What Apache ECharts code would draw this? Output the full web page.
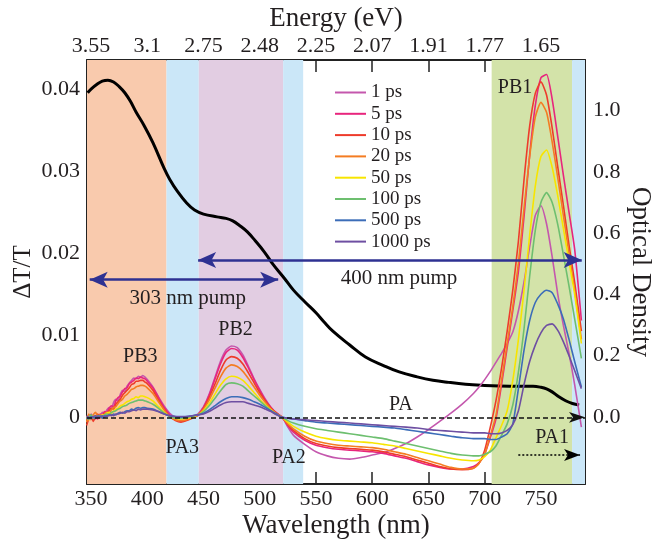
<!DOCTYPE html>
<html><head><meta charset="utf-8">
<script src="https://cdn.jsdelivr.net/npm/echarts@6/dist/echarts.min.js"></script>
<style>html,body{margin:0;padding:0;background:#fff;}#c{width:652px;height:545px;}</style>
</head><body><div id="c"></div>
<script>
// ---------------- data ----------------
const wl = [
346,348,350,352,354,356,358,360,362,364,366,368,370,372,374,376,378,380,382,384,386,388,390,392,394,396,398,400,
405,410,415,420,425,430,435,440,445,450,455,460,465,470,475,480,485,490,495,500,505,510,515,520,525,530,
540,550,560,570,580,590,600,610,620,630,640,650,660,670,680,690,
695,700,705,710,715,720,725,730,735,740,745,750,755,760,765,770,775,780,
786];
const seriesNames = ['1 ps','5 ps','10 ps','20 ps','50 ps','100 ps','500 ps','1000 ps'];
const s1ps = [
0.0002,-0.0003,0.0004,0.0001,-0.0002,0.0003,0.0002,0.0006,0.0004,0.0009,0.0012,0.0010,0.0018,0.0022,0.0020,0.0028,0.0033,0.0031,0.0038,0.0042,0.0045,0.0048,0.0047,0.0050,0.0049,0.0051,0.0049,0.0046,
0.0037,0.0025,0.0014,0.0005,0.0000,-0.0002,-0.0001,0.0001,0.0004,0.0013,0.0028,0.0048,0.0068,0.0082,0.0087,0.0085,0.0076,0.0062,0.0047,0.0034,0.0022,0.0012,0.0005,0,-0.0012,-0.0022,
-0.0033,-0.0042,-0.0047,-0.0050,-0.0051,-0.0049,-0.0046,-0.0043,-0.0038,-0.0032,-0.0024,-0.0015,-0.0005,0.0005,0.0016,0.0029,
0.0037,0.0046,0.0056,0.0067,0.0078,0.0090,0.0104,0.0130,0.0165,0.0208,0.0246,0.0258,0.0236,0.0196,0.0150,0.0112,0.0078,0.0040,
-0.0012];
const s5ps = [
-0.0004,0.0003,-0.0001,0.0002,0.0000,-0.0002,0.0004,0.0003,0.0007,0.0006,0.0011,0.0014,0.0013,0.0020,0.0024,0.0026,0.0031,0.0035,0.0036,0.0041,0.0043,0.0045,0.0048,0.0047,0.0049,0.0048,0.0047,0.0044,
0.0036,0.0024,0.0012,0.0003,-0.0002,-0.0005,-0.0003,0.0000,0.0003,0.0012,0.0027,0.0046,0.0065,0.0079,0.0084,0.0082,0.0073,0.0060,0.0046,0.0033,0.0021,0.0012,0.0005,0,-0.0010,-0.0018,
-0.0028,-0.0034,-0.0037,-0.0039,-0.0040,-0.0041,-0.0042,-0.0044,-0.0047,-0.0050,-0.0054,-0.0058,-0.0061,-0.0063,-0.0063,-0.0060,
-0.0055,-0.0045,-0.0025,-0.0002,0.0040,0.0085,0.0130,0.0178,0.0245,0.0320,0.0380,0.0414,0.0418,0.0388,0.0342,0.0295,0.0250,0.0205,
0.0118];
const s10ps = [
-0.0010,-0.0002,0.0003,-0.0005,0.0001,0.0004,-0.0001,0.0002,0.0005,0.0003,0.0008,0.0011,0.0010,0.0016,0.0019,0.0022,0.0027,0.0030,0.0033,0.0036,0.0040,0.0041,0.0044,0.0044,0.0045,0.0045,0.0043,0.0041,
0.0033,0.0021,0.0010,0.0001,-0.0004,-0.0006,-0.0004,-0.0001,0.0002,0.0011,0.0024,0.0040,0.0057,0.0070,0.0074,0.0072,0.0065,0.0054,0.0042,0.0030,0.0020,0.0011,0.0005,0,-0.0009,-0.0016,
-0.0026,-0.0032,-0.0035,-0.0037,-0.0038,-0.0039,-0.0040,-0.0042,-0.0045,-0.0048,-0.0052,-0.0056,-0.0060,-0.0063,-0.0064,-0.0062,
-0.0056,-0.0040,-0.0012,0.0020,0.0060,0.0105,0.0155,0.0215,0.0290,0.0355,0.0395,0.0409,0.0393,0.0353,0.0305,0.0258,0.0210,0.0165,
0.0105];
const s20ps = [
-0.0006,0.0004,-0.0003,0.0003,0.0006,0.0001,0.0003,-0.0001,0.0004,0.0006,0.0005,0.0009,0.0012,0.0013,0.0017,0.0020,0.0022,0.0026,0.0028,0.0031,0.0034,0.0035,0.0037,0.0038,0.0039,0.0039,0.0038,0.0036,
0.0029,0.0019,0.0009,0.0001,-0.0003,-0.0004,-0.0003,0.0000,0.0003,0.0010,0.0021,0.0035,0.0049,0.0060,0.0064,0.0062,0.0056,0.0047,0.0037,0.0027,0.0018,0.0010,0.0004,0,-0.0008,-0.0014,
-0.0023,-0.0029,-0.0032,-0.0034,-0.0035,-0.0036,-0.0037,-0.0039,-0.0042,-0.0045,-0.0049,-0.0053,-0.0057,-0.0061,-0.0063,-0.0062,
-0.0056,-0.0045,-0.0022,0.0002,0.0045,0.0090,0.0135,0.0188,0.0255,0.0318,0.0366,0.0384,0.0372,0.0336,0.0292,0.0246,0.0200,0.0155,
0.0095];
const s50ps = [
0.0001,-0.0003,-0.0001,0.0002,0.0000,0.0002,0.0001,0.0003,0.0002,0.0005,0.0006,0.0005,0.0008,0.0010,0.0011,0.0014,0.0015,0.0017,0.0019,0.0020,0.0022,0.0023,0.0025,0.0024,0.0026,0.0026,0.0025,0.0024,
0.0020,0.0013,0.0006,0.0001,-0.0001,-0.0002,-0.0001,0.0000,0.0003,0.0008,0.0017,0.0028,0.0039,0.0047,0.0050,0.0049,0.0045,0.0038,0.0030,0.0022,0.0015,0.0009,0.0004,0,-0.0006,-0.0011,
-0.0018,-0.0023,-0.0026,-0.0028,-0.0029,-0.0030,-0.0031,-0.0033,-0.0035,-0.0038,-0.0041,-0.0044,-0.0047,-0.0050,-0.0052,-0.0053,
-0.0052,-0.0048,-0.0040,-0.0025,-0.0010,0.0008,0.0045,0.0095,0.0155,0.0222,0.0282,0.0318,0.0326,0.0305,0.0270,0.0230,0.0190,0.0150,
0.0090];
const s100ps = [
-0.0002,0.0001,0.0003,-0.0001,0.0001,0.0000,0.0002,0.0001,0.0003,0.0004,0.0003,0.0006,0.0007,0.0008,0.0010,0.0011,0.0013,0.0014,0.0015,0.0017,0.0018,0.0019,0.0020,0.0021,0.0021,0.0021,0.0020,0.0019,
0.0016,0.0011,0.0005,0.0001,-0.0001,-0.0001,0.0000,0.0001,0.0003,0.0007,0.0014,0.0023,0.0032,0.0040,0.0042,0.0041,0.0038,0.0032,0.0026,0.0020,0.0014,0.0008,0.0003,0,-0.0004,-0.0007,
-0.0011,-0.0014,-0.0016,-0.0018,-0.0020,-0.0022,-0.0024,-0.0026,-0.0029,-0.0032,-0.0035,-0.0038,-0.0041,-0.0044,-0.0046,-0.0047,
-0.0047,-0.0045,-0.0042,-0.0035,-0.0022,-0.0008,0.0015,0.0055,0.0108,0.0172,0.0228,0.0262,0.0274,0.0262,0.0235,0.0198,0.0160,0.0120,
0.0072];
const s500ps = [
0.0000,-0.0002,0.0001,0.0000,-0.0001,0.0002,0.0001,-0.0001,0.0002,0.0001,0.0003,0.0002,0.0004,0.0003,0.0005,0.0006,0.0005,0.0007,0.0008,0.0008,0.0010,0.0009,0.0011,0.0012,0.0011,0.0012,0.0012,0.0011,
0.0010,0.0007,0.0004,0.0002,0.0001,0.0000,0.0001,0.0002,0.0003,0.0005,0.0009,0.0014,0.0019,0.0023,0.0025,0.0025,0.0024,0.0022,0.0019,0.0016,0.0012,0.0008,0.0004,0,-0.0001,-0.0002,
-0.0004,-0.0006,-0.0007,-0.0008,-0.0009,-0.0010,-0.0011,-0.0012,-0.0013,-0.0015,-0.0017,-0.0019,-0.0021,-0.0023,-0.0025,-0.0026,
-0.0026,-0.0026,-0.0027,-0.0027,-0.0024,-0.0020,-0.0008,0.0035,0.0082,0.0118,0.0140,0.0150,0.0155,0.0152,0.0138,0.0120,0.0095,0.0068,
0.0037];
const s1000ps = [
0.0001,0.0000,-0.0002,0.0001,0.0002,0.0000,0.0001,0.0002,0.0000,0.0002,0.0002,0.0003,0.0002,0.0004,0.0004,0.0005,0.0006,0.0005,0.0007,0.0007,0.0008,0.0009,0.0008,0.0010,0.0009,0.0010,0.0010,0.0010,
0.0009,0.0007,0.0004,0.0002,0.0001,0.0001,0.0001,0.0002,0.0003,0.0004,0.0007,0.0011,0.0015,0.0018,0.0019,0.0019,0.0019,0.0017,0.0015,0.0013,0.0010,0.0007,0.0003,0,-0.0001,-0.0002,
-0.0003,-0.0004,-0.0005,-0.0006,-0.0007,-0.0008,-0.0009,-0.0010,-0.0011,-0.0012,-0.0013,-0.0015,-0.0016,-0.0017,-0.0018,-0.0019,
-0.0019,-0.0019,-0.0020,-0.0020,-0.0019,-0.0016,-0.0009,0.0008,0.0040,0.0068,0.0088,0.0103,0.0112,0.0114,0.0106,0.0092,0.0075,0.0057,
0.0035];
const odWl = [347,350,355,360,365,370,375,380,385,390,397,405,415,420,427,435,442,450,462,470,476,482,489,496,504,512,522,530,540,550,557,565,580,594,610,624,640,654,668,683,700,713,730,743,750,755,760,766,772,778,784];
const od = [1.058,1.070,1.085,1.096,1.099,1.093,1.078,1.058,1.030,0.995,0.952,0.895,0.811,0.775,0.735,0.698,0.675,0.662,0.653,0.648,0.640,0.625,0.604,0.575,0.539,0.497,0.452,0.414,0.376,0.340,0.311,0.280,0.235,0.196,0.168,0.147,0.131,0.120,0.113,0.107,0.103,0.101,0.100,0.100,0.097,0.092,0.082,0.066,0.053,0.044,0.039];
const wlTicks = [350,400,450,500,550,600,650,700,750];
const energyLabels = ['3.55','3.1','2.75','2.48','2.25','2.07','1.91','1.77','1.65'];
const dtTicks = [0,0.01,0.02,0.03,0.04];
const odTicks = [0,0.2,0.4,0.6,0.8,1.0];
const bandEdges = [[346.4,417.1],[417.1,445.8],[445.8,520.8],[520.8,538.6],[706.2,777.7],[777.7,789.2]];
const bandKinds = ['uv','gap','mid','gap','red','gap'];
const pump303 = [348.8, 516.4, 0.01678];
const pump400 = [445.2, 786.3, 0.01918];
const pa1Arrow = [729.9, 784.8, -0.0046];
const labelNames = ['PB3','PB2','PA3','PA2','PA','PB1','PA1','303 nm pump','400 nm pump'];
const labelX = [393.8, 478.5, 431.1, 525.9, 625.5, 727.0, 759.9, 436.0, 623.8];
const labelY = [0.00735, 0.01065, -0.00374, -0.00496, 0.0015, 0.04016, -0.00252, 0.01455, 0.01699];

// ---------------- style ----------------
const FONT = '"Liberation Serif","Times New Roman",serif';
const TXT = '#231f20';
const lineColors = ['#c457ad','#e8257d','#ee3b2b','#f47c22','#f7e500','#6dbf6f','#3c6db8','#6e4fa2'];
const bandColors = {uv:'#f9caad', gap:'#cbe7f8', mid:'#e2cde2', red:'#d3e3a9'};
const NAVY = '#2e3192';
const allSeries = [s1ps,s5ps,s10ps,s20ps,s50ps,s100ps,s500ps,s1000ps];

const chart = echarts.init(document.getElementById('c'), null, {renderer:'canvas'});

const axisCommon = {
  type:'value', splitLine:{show:false}, nameMoveOverlap:false,
  axisLine:{show:true, onZero:false, lineStyle:{color:'#222', width:2}},
  axisTick:{show:true, inside:true, length:12, lineStyle:{color:'#222', width:1.5}},
};

const series = [];
series.push({
  type:'line', data:[], silent:true, z:1,
  markArea:{silent:true, data: bandEdges.map((e,i)=>[{xAxis:e[0], itemStyle:{color:bandColors[bandKinds[i]], opacity:1}},{xAxis:e[1]}])}
});
series.push({
  type:'line', name:'OD', yAxisIndex:1, data: odWl.map((w,i)=>[w, od[i]]),
  symbol:'none', smooth:0.4, lineStyle:{color:'#000', width:3}, z:3, silent:true
});
allSeries.forEach((arr, k)=>{
  series.push({
    type:'line', name:seriesNames[k], data: wl.map((w,i)=>[w, arr[i]]),
    symbol:'none', smooth:0.2, lineStyle:{color:lineColors[k], width:1.6},
    itemStyle:{color:lineColors[k]}, z:4, silent:true
  });
});
series.push({
  type:'line', data:[], z:5, silent:true,
  markLine:{
    silent:true, animation:false,
    data:[
      [{coord:[pump303[0],pump303[2]], symbol:'arrow', symbolSize:[12,18], lineStyle:{color:NAVY,width:2.5,type:'solid'}},
       {coord:[pump303[1],pump303[2]], symbol:'arrow', symbolSize:[12,18]}],
      [{coord:[pump400[0],pump400[2]], symbol:'arrow', symbolSize:[12,18], lineStyle:{color:NAVY,width:2.5,type:'solid'}},
       {coord:[pump400[1],pump400[2]], symbol:'arrow', symbolSize:[12,18]}],
      [{coord:[pa1Arrow[0],pa1Arrow[2]], symbol:'none', lineStyle:{color:'#000',width:1.5,type:[2,2]}},
       {coord:[pa1Arrow[1],pa1Arrow[2]], symbol:'arrow', symbolSize:[9,16]}],
      {yAxis:0, symbol:'none', lineStyle:{color:'#111',width:1.5,type:[5,3]}}
    ],
    label:{show:false}
  },
  markPoint:{
    silent:true, symbol:'circle', symbolSize:0,
    label:{show:true, position:'inside', formatter:'{b}', fontFamily:FONT, fontSize:20, color:TXT},
    data: labelNames.map((n,i)=>({name:n, coord:[labelX[i], labelY[i]],
      label: i>=7 ? {fontSize:21} : {}}))
  }
});

chart.setOption({
  animation:false,
  backgroundColor:'#fff',
  grid:{left:87, right:67, top:60, bottom:61, containLabel:false, outerBoundsMode:'none'},
  legend:{
    show:true, data:seriesNames, orient:'vertical', left:330, top:78,
    itemWidth:31, itemHeight:2, itemGap:2.3, icon:'rect',
    textStyle:{fontFamily:FONT, fontSize:19, lineHeight:19, color:TXT},
    selectedMode:false
  },
  xAxis:[
    Object.assign({}, axisCommon, {
      position:'bottom', min:346.4, max:789.2,
      axisTick:Object.assign({}, axisCommon.axisTick, {customValues:wlTicks}),
      axisLabel:{customValues:wlTicks, fontFamily:FONT, fontSize:22, color:TXT, margin:4},
      name:'Wavelength (nm)', nameLocation:'middle', nameGap:28,
      nameTextStyle:{fontFamily:FONT, fontSize:27, color:TXT}
    }),
    Object.assign({}, axisCommon, {
      position:'top', min:346.4, max:789.2,
      axisTick:Object.assign({}, axisCommon.axisTick, {customValues:wlTicks}),
      axisLabel:{customValues:wlTicks, fontFamily:FONT, fontSize:22, color:TXT, margin:3,
        formatter:(v)=>{const i=wlTicks.indexOf(Math.round(v)); return i>=0?energyLabels[i]:'';}},
      name:'Energy (eV)', nameLocation:'middle', nameGap:28,
      nameTextStyle:{fontFamily:FONT, fontSize:27, color:TXT}
    })
  ],
  yAxis:[
    Object.assign({}, axisCommon, {
      position:'left', min:-0.00813, max:0.04357,
      axisTick:Object.assign({}, axisCommon.axisTick, {customValues:dtTicks}),
      axisLabel:{customValues:dtTicks, fontFamily:FONT, fontSize:22, color:TXT, margin:7,
        formatter:(v)=> Math.abs(v)<1e-9 ? '0' : String(+v.toFixed(2))},
      name:'ΔT/T', nameLocation:'middle', nameGap:51, nameRotate:90,
      nameTextStyle:{fontFamily:FONT, fontSize:25, color:TXT}
    }),
    Object.assign({}, axisCommon, {
      position:'right', min:-0.2186, max:1.1648,
      axisTick:Object.assign({}, axisCommon.axisTick, {customValues:odTicks}),
      axisLabel:{customValues:odTicks, fontFamily:FONT, fontSize:22, color:TXT, margin:8,
        formatter:(v)=> v.toFixed(1)},
      name:'Optical Density', nameLocation:'middle', nameGap:42, nameRotate:-90,
      nameTextStyle:{fontFamily:FONT, fontSize:27, color:TXT}
    })
  ],
  series: series
});
</script></body></html>
